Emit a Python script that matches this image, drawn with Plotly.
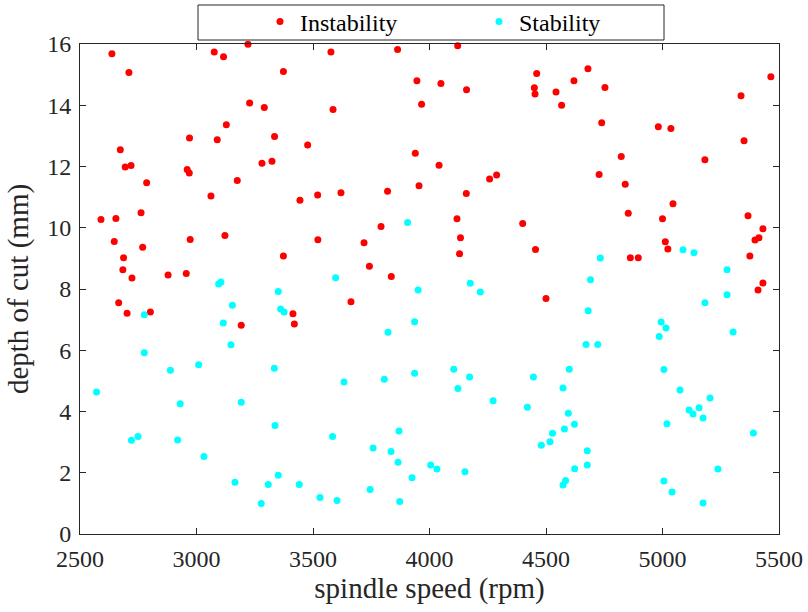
import plotly.graph_objects as go

# Instability points (spindle speed rpm, depth of cut mm)
inst_rpm = [2637, 2710, 2970, 2673, 2694, 2719, 2960, 2969, 2786, 2762, 2590, 2654, 2647, 2973, 2769,
            2687, 2684, 2723, 2878, 2956, 2666, 2702, 2802,
            3076, 3116, 3221, 3373, 3228, 3291, 3128, 3089, 3335, 3477, 3281, 3324, 3175, 3062, 3444,
            3122, 3373, 3414, 3420, 3192,
            3577, 3863, 3946, 3966, 3586, 3939, 3955, 3520, 3620, 3820, 3792, 3521, 3719, 3742, 3836, 3663,
            4121, 4460, 4049, 4159, 4450, 4453, 4041, 4258, 4288, 4158, 4118, 4400, 4133, 4455, 4129, 4500,
            4680, 4620, 4543, 4753, 4567, 4739, 4982, 4823, 4728, 4840, 4853, 5000, 5012, 4862, 4896,
            5036, 5182, 5045, 5023, 5337, 5465, 5350, 5367, 5375, 5397, 5414, 5431, 5431, 5410]
inst_depth = [15.68, 15.07, 12.93, 12.55, 11.98, 12.03, 11.90, 11.79, 11.47, 10.49, 10.27, 10.30, 9.55, 9.62, 9.36,
              9.02, 8.63, 8.36, 8.46, 8.51, 7.55, 7.21, 7.25,
              15.74, 15.58, 15.99, 15.10, 14.07, 13.93, 13.36, 12.87, 12.98, 12.70, 12.11, 12.17, 11.54, 11.04, 10.90,
              9.75, 9.08, 7.19, 6.86, 6.82,
              15.74, 15.82, 14.80, 14.03, 13.86, 12.43, 11.37, 11.07, 11.14, 11.19, 10.04, 9.61, 9.51, 8.74, 8.41, 7.58,
              15.94, 15.04, 14.71, 14.51, 14.57, 14.37, 12.04, 11.59, 11.72, 11.12, 10.29, 10.14, 9.67, 9.29, 9.15, 7.69,
              15.19, 14.80, 14.43, 14.58, 14.00, 13.43, 13.30, 12.33, 11.74, 11.42, 10.47, 10.29, 9.54, 9.02, 9.02,
              13.24, 12.22, 10.78, 9.31, 14.31, 14.93, 12.84, 10.39, 9.08, 9.60, 9.67, 9.97, 8.20, 7.97]

# Stability points
stab_rpm = [2776, 2776, 2888, 3009, 2571, 2930, 2721, 2749, 2919,
            3095, 3105, 3351, 3154, 3361, 3376, 3115, 3148, 3334, 3192, 3337, 3032, 3351, 3165, 3308, 3441, 3278,
            3906, 3597, 3951, 3936, 3822, 3633, 3806, 3936, 3584, 3869, 3758, 3835, 3865, 4005, 3925, 3745, 3530,
            3603, 3872,
            4175, 4218, 4104, 4172, 4446, 4122, 4273, 4420, 4480, 4032, 4152,
            4733, 4691, 4681, 4994, 4986, 4672, 4722, 4600, 5006, 4573, 4596, 4622, 4579, 4528, 4517, 4677, 4677,
            4623, 4584, 4573, 5006, 5015,
            5041, 5019, 5088, 5135, 5075, 5114, 5131, 5157, 5174, 5204, 5182, 5277, 5277, 5303, 5238, 5174, 5390]
stab_depth = [7.16, 5.92, 5.35, 5.53, 4.64, 4.25, 3.06, 3.18, 3.07,
              8.16, 8.23, 7.92, 7.47, 7.35, 7.25, 6.89, 6.18, 5.41, 4.30, 3.54, 2.53, 1.92, 1.69, 1.62, 1.62, 1.00,
              10.17, 8.37, 7.97, 6.93, 6.59, 4.96, 5.05, 5.25, 3.18, 3.36, 2.81, 2.69, 2.34, 2.25, 1.84, 1.45, 1.19,
              1.09, 1.06,
              8.19, 7.90, 5.38, 5.13, 5.13, 4.75, 4.35, 4.14, 2.90, 2.12, 2.03,
              9.01, 8.30, 7.29, 6.92, 6.45, 6.19, 6.19, 5.38, 5.37, 4.77, 3.94, 3.58, 3.43, 3.29, 3.01, 2.72, 2.25,
              2.13, 1.75, 1.60, 1.73, 6.73,
              1.37, 3.60, 9.28, 9.18, 4.70, 4.05, 3.92, 4.12, 3.79, 4.44, 7.55, 8.63, 7.81, 6.60, 2.12, 1.01, 3.30]

x_ticks = [2500, 3000, 3500, 4000, 4500, 5000, 5500]
y_ticks = [0, 2, 4, 6, 8, 10, 12, 14, 16]

FONT = "Liberation Serif, Times New Roman, serif"
INK = "#262626"

fig = go.Figure()
fig.add_trace(go.Scatter(x=inst_rpm, y=inst_depth, mode="markers", name="Instability",
                         marker=dict(color="#ff0000", size=7, line=dict(width=0)), cliponaxis=False))
fig.add_trace(go.Scatter(x=stab_rpm, y=stab_depth, mode="markers", name="Stability",
                         marker=dict(color="#00ffff", size=7, line=dict(width=0)), cliponaxis=False))

axis_common = dict(showline=True, linecolor=INK, linewidth=1, mirror="ticks", ticks="inside",
                   ticklen=6, tickcolor=INK, showgrid=False, zeroline=False, automargin=False,
                   tickfont=dict(family=FONT, size=24, color=INK))

# legend frame (drawn as a layout shape around the native legend)
fig.add_shape(type="rect", xref="paper", yref="paper",
              x0=(198 - 80) / 699, x1=(664 - 80) / 699, y0=(534 - 40) / 490, y1=(534 - 5) / 490,
              line=dict(color=INK, width=1), fillcolor="white", layer="below")

fig.update_layout(
    width=808, height=612,
    margin=dict(l=80, r=29, t=44, b=78, autoexpand=False),
    paper_bgcolor="white", plot_bgcolor="white",
    font=dict(family=FONT, color=INK),
    xaxis=dict(range=[2500, 5500], tickvals=x_ticks, ticktext=[str(v) for v in x_ticks],
               ticklabelstandoff=3,
               title=dict(text="spindle speed (rpm)", font=dict(family=FONT, size=29, color=INK), standoff=0),
               **axis_common),
    yaxis=dict(range=[0, 16], tickvals=y_ticks, ticktext=[str(v) for v in y_ticks],
               ticklabelstandoff=3,
               title=dict(text="depth of cut (mm)", font=dict(family=FONT, size=29, color=INK), standoff=10),
               **axis_common),
    showlegend=True,
    legend=dict(orientation="h", x=(260 - 80) / 699, xanchor="left", y=(534 - 22) / 490, yanchor="middle",
                borderwidth=0, bgcolor="rgba(0,0,0,0)",
                font=dict(family=FONT, size=24, color="black"),
                entrywidth=174, entrywidthmode="pixels"),
)

fig.write_html("out.html", config={"displayModeBar": False},
               post_script="document.body.style.margin='0px';document.body.style.overflow='hidden';")
